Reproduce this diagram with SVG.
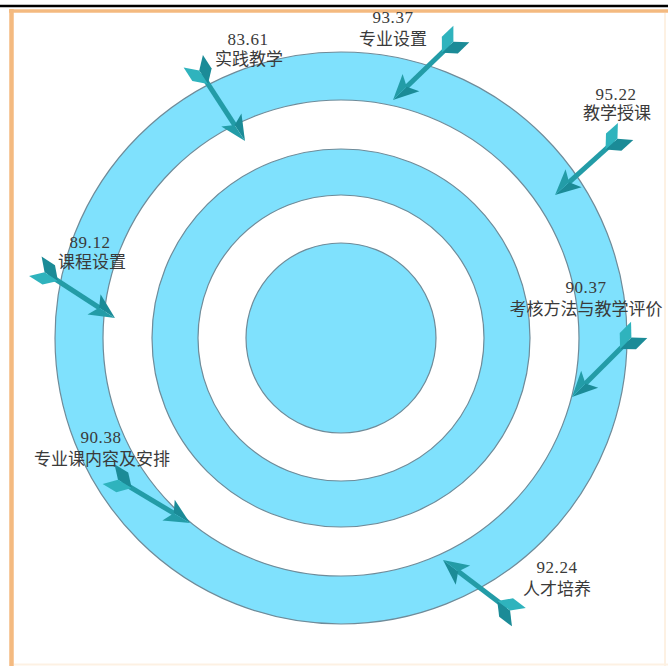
<svg xmlns="http://www.w3.org/2000/svg" xmlns:xlink="http://www.w3.org/1999/xlink" width="668" height="666" viewBox="0 0 668 666">
<style>
.ring{fill:#7fe1fd;stroke:#6f8b99;stroke-width:1.2}
.hole{fill:#ffffff;stroke:#6f8b99;stroke-width:1.2}
.lbl{font-family:"Liberation Serif","Noto Sans CJK SC",serif;font-size:17px;fill:#3a3a3a;text-anchor:middle}
.num{letter-spacing:0.6px}
.shaft{fill:#239ca7}
.dk{fill:#1b8b97}
.lt{fill:#2fb3bd}
</style>
<defs>
<g id="arr">
<rect class="shaft" x="-80" y="-2.5" width="62" height="5"/>
<polygon class="dk" points="0,0 -25,-12 -19,0"/>
<polygon class="shaft" points="0,0 -19,0 -25,12"/>
<polygon class="dk" points="-68,0 -79,-11.5 -95,-11.5 -84,0"/>
<polygon class="lt" points="-68,0 -79,11.5 -95,11.5 -84,0"/>
</g>
</defs>
<rect x="0" y="0" width="668" height="666" fill="#ffffff"/>
<g id="frame">
<line x1="0" y1="6" x2="668" y2="6" stroke="#000" stroke-width="2.5"/>
<line x1="9" y1="11" x2="668" y2="11" stroke="#f4ba80" stroke-width="3.5"/>
<line x1="11.5" y1="9" x2="11.5" y2="666" stroke="#f4ba80" stroke-width="4.5"/>
<line x1="14" y1="664.5" x2="668" y2="664.5" stroke="#fdf1e3" stroke-width="2"/>
<line x1="665" y1="13" x2="665" y2="666" stroke="#fdf1e3" stroke-width="2"/>
</g>
<g id="target">
<circle class="ring" cx="341" cy="338" r="286"/>
<circle class="hole" cx="341" cy="338" r="238"/>
<circle class="ring" cx="341" cy="338" r="189"/>
<circle class="hole" cx="341" cy="338" r="143"/>
<circle class="ring" cx="341" cy="338" r="95"/>
</g>
<g id="connectors">
<use xlink:href="#arr" transform="translate(245,141) rotate(57)"/>
<use xlink:href="#arr" transform="translate(393,100) rotate(136)"/>
<use xlink:href="#arr" transform="translate(555,195) rotate(138)"/>
<use xlink:href="#arr" transform="translate(115,318) rotate(33)"/>
<use xlink:href="#arr" transform="translate(572,397) rotate(135)"/>
<use xlink:href="#arr" transform="translate(190,523) rotate(31)"/>
<use xlink:href="#arr" transform="translate(443,560) rotate(-143)"/>
</g>
<g id="n-shijian"><text class="lbl num" x="248" y="45">83.61</text><text class="lbl" x="249" y="65">实践教学</text></g>
<g id="n-zhuanye"><text class="lbl num" x="393" y="23">93.37</text><text class="lbl" x="393" y="45">专业设置</text></g>
<g id="n-jiaoxue"><text class="lbl num" x="616" y="100">95.22</text><text class="lbl" x="617" y="119">教学授课</text></g>
<g id="n-kecheng"><text class="lbl num" x="90" y="248">89.12</text><text class="lbl" x="92" y="268">课程设置</text></g>
<g id="n-kaohe"><text class="lbl num" x="586" y="293">90.37</text><text class="lbl" x="586" y="315">考核方法与教学评价</text></g>
<g id="n-zhuanyeke"><text class="lbl num" x="101" y="443">90.38</text><text class="lbl" x="102" y="465">专业课内容及安排</text></g>
<g id="n-rencai"><text class="lbl num" x="557" y="573">92.24</text><text class="lbl" x="557" y="595">人才培养</text></g>
</svg>
